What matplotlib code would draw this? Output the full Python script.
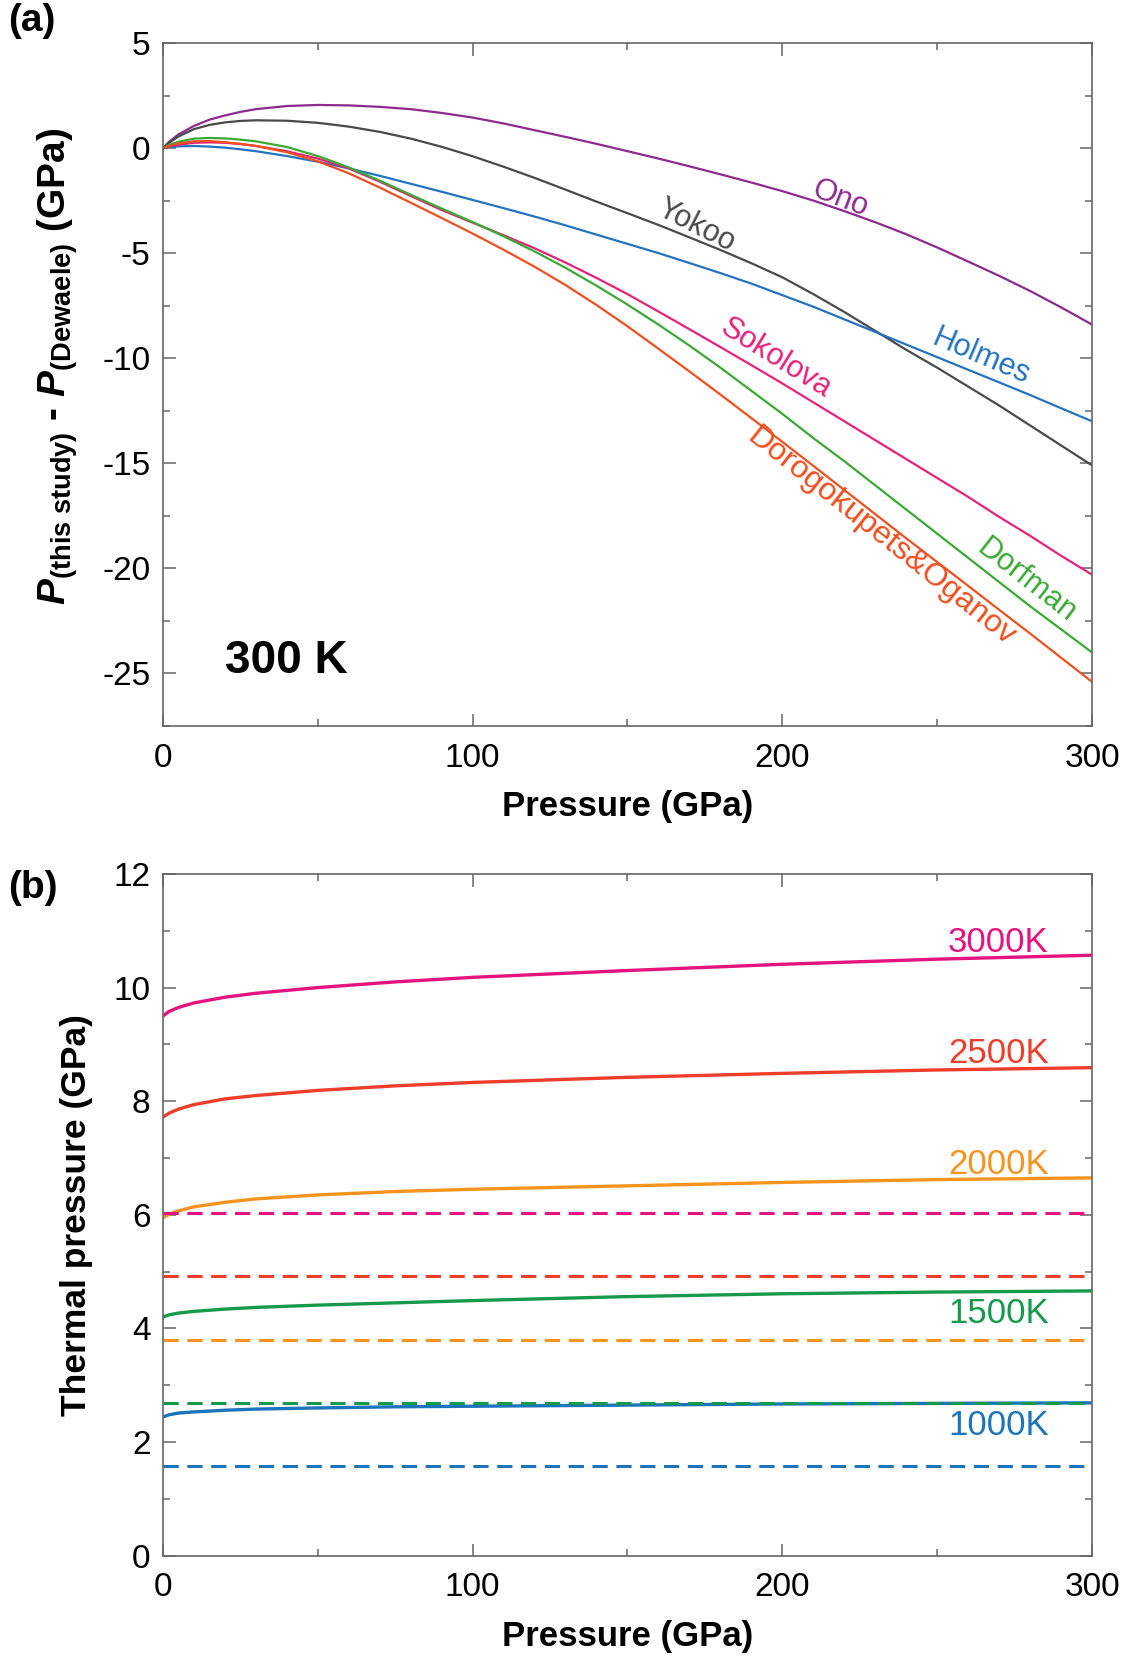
import numpy as np
import matplotlib
matplotlib.use('Agg')
import matplotlib.pyplot as plt
from matplotlib.ticker import MultipleLocator

plt.rcParams['font.family'] = ['Liberation Sans', 'DejaVu Sans']
plt.rcParams['axes.unicode_minus'] = False
plt.rcParams['mathtext.fontset'] = 'custom'
plt.rcParams['mathtext.rm'] = 'Liberation Sans'
plt.rcParams['mathtext.bf'] = 'Liberation Sans:bold'
plt.rcParams['mathtext.it'] = 'Liberation Sans:italic'
plt.rcParams['mathtext.bfit'] = 'Liberation Sans:italic:bold'

# ---- panel (a): difference from Dewaele scale at 300 K ----
pressure_a = [0, 2, 5, 10, 15, 20, 25, 30, 40, 50, 60, 70, 80, 90, 100, 110, 120, 130, 140, 150,
			  160, 170, 180, 190, 200, 210, 220, 230, 240, 250, 260, 270, 280, 290, 300]
ono = [0, 0.3, 0.65, 1.05, 1.35, 1.55, 1.72, 1.85, 2.0, 2.05, 2.03, 1.96, 1.85, 1.67, 1.45, 1.17, 0.85,
	   0.53, 0.2, -0.15, -0.5, -0.87, -1.25, -1.64, -2.05, -2.5, -3.0, -3.53, -4.1, -4.73, -5.4, -6.08,
	   -6.8, -7.58, -8.4]
yokoo = [0, 0.25, 0.55, 0.9, 1.1, 1.22, 1.29, 1.32, 1.3, 1.2, 1.02, 0.77, 0.45, 0.06, -0.39, -0.89,
		 -1.42, -1.98, -2.55, -3.1, -3.66, -4.25, -4.85, -5.48, -6.15, -6.95, -7.8, -8.7, -9.6, -10.45,
		 -11.35, -12.25, -13.2, -14.15, -15.1]
holmes = [0, 0.05, 0.08, 0.1, 0.07, 0.02, -0.06, -0.15, -0.38, -0.65, -0.97, -1.32, -1.7, -2.08, -2.47,
		  -2.86, -3.26, -3.68, -4.12, -4.56, -5.0, -5.47, -5.95, -6.45, -7.0, -7.55, -8.15, -8.75, -9.35,
		  -9.95, -10.55, -11.15, -11.75, -12.38, -13.0]
sokolova = [0, 0.08, 0.16, 0.25, 0.27, 0.25, 0.19, 0.1, -0.15, -0.5, -0.97, -1.6, -2.28, -2.95, -3.55,
			-4.15, -4.77, -5.45, -6.18, -6.95, -7.78, -8.62, -9.47, -10.33, -11.2, -12.1, -13.0, -13.9,
			-14.8, -15.7, -16.6, -17.55, -18.45, -19.4, -20.3]
dorfman = [0, 0.15, 0.3, 0.45, 0.48, 0.46, 0.4, 0.32, 0.05, -0.38, -0.92, -1.55, -2.22, -2.88, -3.52,
		   -4.2, -4.92, -5.7, -6.55, -7.45, -8.4, -9.4, -10.45, -11.55, -12.65, -13.8, -14.9, -16.05,
		   -17.2, -18.35, -19.5, -20.65, -21.8, -22.9, -24.0]
dorogokupets = [0, 0.1, 0.22, 0.32, 0.33, 0.28, 0.2, 0.1, -0.2, -0.63, -1.2, -1.88, -2.6, -3.33, -4.07,
				-4.84, -5.65, -6.52, -7.47, -8.48, -9.55, -10.63, -11.73, -12.85, -13.98, -15.12, -16.27,
				-17.42, -18.57, -19.7, -20.83, -21.97, -23.1, -24.25, -25.4]

# ---- panel (b): thermal pressure ----
pressure_b = [0, 2, 5, 10, 20, 30, 50, 75, 100, 150, 200, 250, 300]
temps = ['3000K', '2500K', '2000K', '1500K', '1000K']
pth_3000 = [9.5, 9.58, 9.65, 9.73, 9.83, 9.9, 10.0, 10.1, 10.18, 10.3, 10.41, 10.5, 10.57]
pth_2500 = [7.72, 7.79, 7.86, 7.94, 8.04, 8.1, 8.19, 8.27, 8.33, 8.42, 8.49, 8.55, 8.59]
pth_2000 = [5.95, 6.01, 6.07, 6.14, 6.22, 6.28, 6.35, 6.41, 6.45, 6.51, 6.57, 6.62, 6.65]
pth_1500 = [4.2, 4.24, 4.27, 4.3, 4.34, 4.37, 4.41, 4.45, 4.49, 4.56, 4.61, 4.64, 4.66]
pth_1000 = [2.44, 2.48, 2.51, 2.53, 2.56, 2.58, 2.6, 2.62, 2.63, 2.65, 2.67, 2.68, 2.69]
pth_dashed = [6.04, 4.92, 3.80, 2.68, 1.57]  # constant reference values
label_y = [10.63, 8.67, 6.72, 4.09, 2.12]

colors_a = {'Ono': '#8e2a8f', 'Yokoo': '#4a4a4a', 'Holmes': '#2373c2',
			'Sokolova': '#e6237b', 'Dorfman': '#3aaa35', 'Dorogokupets&Oganov': '#f04f1f'}
colors_b = ['#e5137f', '#ee3d2b', '#f7941d', '#16994a', '#1b74bc']

spine_col = '#666666'

def style_axes(ax):
	for s in ax.spines.values():
		s.set_color(spine_col)
		s.set_linewidth(1.2)
	ax.tick_params(which='both', direction='in', top=True, right=True, color=spine_col,
				   labelsize=24)
	ax.tick_params(axis='x', which='both', pad=12)
	ax.tick_params(axis='y', which='both', pad=9)
	ax.tick_params(which='major', length=9, width=1.1)
	ax.tick_params(which='minor', length=5, width=1.1)

fig = plt.figure(figsize=(11.30, 16.59), dpi=100)

# panel (a)
ax1 = fig.add_axes([0.1442, 0.5624, 0.8222, 0.4117])
series = [('Ono', ono), ('Yokoo', yokoo), ('Holmes', holmes), ('Sokolova', sokolova),
		  ('Dorfman', dorfman), ('Dorogokupets&Oganov', dorogokupets)]
for name, vals in series:
	ax1.plot(pressure_a, vals, color=colors_a[name], lw=1.6)
ax1.set_xlim(0, 300)
ax1.set_ylim(-27.5, 5)
ax1.xaxis.set_major_locator(MultipleLocator(100))
ax1.xaxis.set_minor_locator(MultipleLocator(50))
ax1.yaxis.set_major_locator(MultipleLocator(5))
ax1.yaxis.set_minor_locator(MultipleLocator(2.5))
style_axes(ax1)
ax1.set_xlabel('Pressure (GPa)', fontsize=25, fontweight='bold', labelpad=12)
ax1.set_ylabel(r'$\mathbfit{P}_{\mathbf{(this\ study)}}$ - $\mathbfit{P}_{\mathbf{(Dewaele)}}$ (GPa)',
			   fontsize=28, fontweight='bold', labelpad=16)
ax1.yaxis.label.set_y(0.527)

# curve names
ann = [('Ono', 218.6, -2.4, -21, 22), ('Yokoo', 172, -3.7, -27, 22), ('Holmes', 264, -9.95, -23, 22),
	   ('Sokolova', 198, -10.0, -32, 22), ('Dorfman', 279, -20.6, -38, 22),
	   ('Dorogokupets&Oganov', 232, -18.5, -38.5, 23)]
for name, x, y, rot, fs in ann:
	ax1.text(x, y, name, color=colors_a[name], fontsize=fs, rotation=rot,
			 ha='center', va='center')
ax1.text(20, -25.0, '300 K', fontsize=33, fontweight='bold', ha='left', va='baseline')

# panel (b)
ax2 = fig.add_axes([0.1442, 0.0623, 0.8222, 0.4109])
solid = [pth_3000, pth_2500, pth_2000, pth_1500, pth_1000]
for vals, c in zip(solid, colors_b):
	ax2.plot(pressure_b, vals, color=c, lw=2.4)
for lvl, c in zip(pth_dashed, colors_b):
	ax2.plot([0, 300], [lvl, lvl], color=c, lw=2.2, dashes=(5, 2.8))
for t, y, c in zip(temps, label_y, colors_b):
	ax2.text(286, y, t, color=c, fontsize=25, ha='right', va='baseline')
ax2.set_xlim(0, 300)
ax2.set_ylim(0, 12)
ax2.xaxis.set_major_locator(MultipleLocator(100))
ax2.xaxis.set_minor_locator(MultipleLocator(50))
ax2.yaxis.set_major_locator(MultipleLocator(2))
ax2.yaxis.set_minor_locator(MultipleLocator(1))
style_axes(ax2)
ax2.set_xlabel('Pressure (GPa)', fontsize=25, fontweight='bold', labelpad=12)
ax2.set_ylabel('Thermal pressure (GPa)', fontsize=25.5, fontweight='bold', labelpad=15)

fig.text(0.007, 0.998, '(a)', fontsize=28, fontweight='bold', ha='left', va='top')
fig.text(0.007, 0.4755, '(b)', fontsize=28, fontweight='bold', ha='left', va='top')

plt.savefig('out.png', dpi=100)
plt.close()
